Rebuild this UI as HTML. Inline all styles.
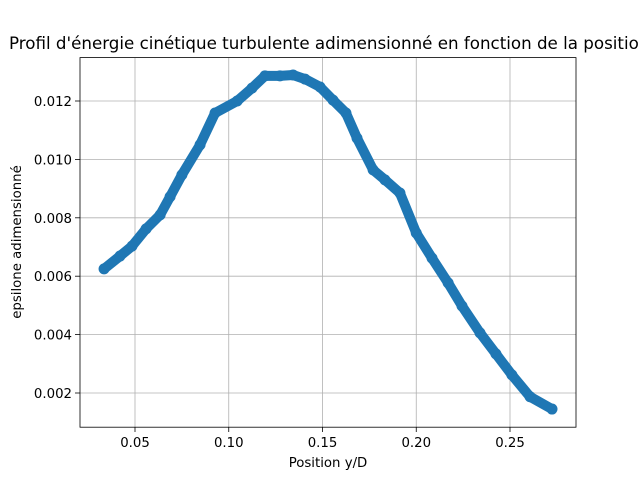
<!DOCTYPE html>
<html><head><meta charset="utf-8"><style>
body{margin:0;background:#fff;width:640px;height:480px;overflow:hidden}
svg{font-family:"DejaVu Sans","Liberation Sans",sans-serif}
</style></head><body>
<svg id="chart" width="640" height="480">
<text x="9" y="49" font-size="16.7">Profil d'énergie cinétique turbulente adimensionné en fonction de la position</text>
<g id="grid"></g>
<g id="series"></g>
<rect x="80" y="57.6" width="496" height="369.6" fill="none" stroke="#000" stroke-width="0.8"/>
<g id="ticks"></g>
<text x="328" y="467" font-size="13.3" text-anchor="middle">Position y/D</text>
<text transform="translate(21,242) rotate(-90)" font-size="13.3" text-anchor="middle">epsilone adimensionné</text>
</svg>
<script>
const xs=[0.0335,0.042,0.0484,0.0559,0.0634,0.0687,0.075,0.0847,0.0927,0.1045,0.1124,0.1193,0.1273,0.1343,0.1407,0.1487,0.1556,0.1625,0.1684,0.177,0.1833,0.1913,0.2,0.2084,0.217,0.2244,0.234,0.2425,0.251,0.2607,0.2724];
const ys=[0.00625,0.00669,0.00703,0.00762,0.0081,0.00872,0.00947,0.0105,0.01159,0.012,0.01244,0.01286,0.01286,0.01289,0.01275,0.01248,0.01203,0.01159,0.01073,0.00964,0.0093,0.00885,0.00748,0.00662,0.00577,0.00498,0.00406,0.00334,0.00262,0.00187,0.00145];
const xTicks=[0.05,0.10,0.15,0.20,0.25];
const xTickLabels=["0.05","0.10","0.15","0.20","0.25"];
const yTicks=[0.002,0.004,0.006,0.008,0.010,0.012];
const yTickLabels=["0.002","0.004","0.006","0.008","0.010","0.012"];
const X=v=>41.25+v*1875, Y=v=>451.4-v*29200;
const NS="http://www.w3.org/2000/svg";
const grid=document.getElementById('grid'),ticks=document.getElementById('ticks'),ser=document.getElementById('series');
function mk(tag,attrs,parent){const e=document.createElementNS(NS,tag);for(const k in attrs)e.setAttribute(k,attrs[k]);parent.appendChild(e);return e;}
xTicks.forEach((t,i)=>{const x=X(t);
 const g=mk('line',{x1:x,x2:x,y1:57.6,y2:427.2,stroke:'#b0b0b0','stroke-width':0.8},grid);
 
 
 const tk=mk('line',{x1:x,x2:x,y1:427.2,y2:432,stroke:'#000','stroke-width':0.8},ticks);
 
 
 const l=mk('text',{x:x,y:447,'font-size':13.3,'text-anchor':'middle'},ticks);l.textContent=xTickLabels[i];
 
 
});
yTicks.forEach((t,i)=>{const y=Y(t);
 const g=mk('line',{x1:80,x2:576,y1:y,y2:y,stroke:'#b0b0b0','stroke-width':0.8},grid);
 
 
 const tk=mk('line',{x1:75,x2:80,y1:y,y2:y,stroke:'#000','stroke-width':0.8},ticks);
 
 
 const l=mk('text',{x:72,y:y+5,'font-size':13.3,'text-anchor':'end'},ticks);l.textContent=yTickLabels[i];
 
 
});
const pts=xs.map((v,i)=>X(v)+','+Y(ys[i])).join(' ');
const pl=mk('polyline',{points:pts,fill:'none',stroke:'#1f77b4','stroke-width':10,'stroke-linejoin':'round','stroke-linecap':'round'},ser);


xs.forEach((v,i)=>{const c=mk('circle',{cx:X(v),cy:Y(ys[i]),r:5.5,fill:'#1f77b4'},ser);
 
 });
</script>
</body></html>
